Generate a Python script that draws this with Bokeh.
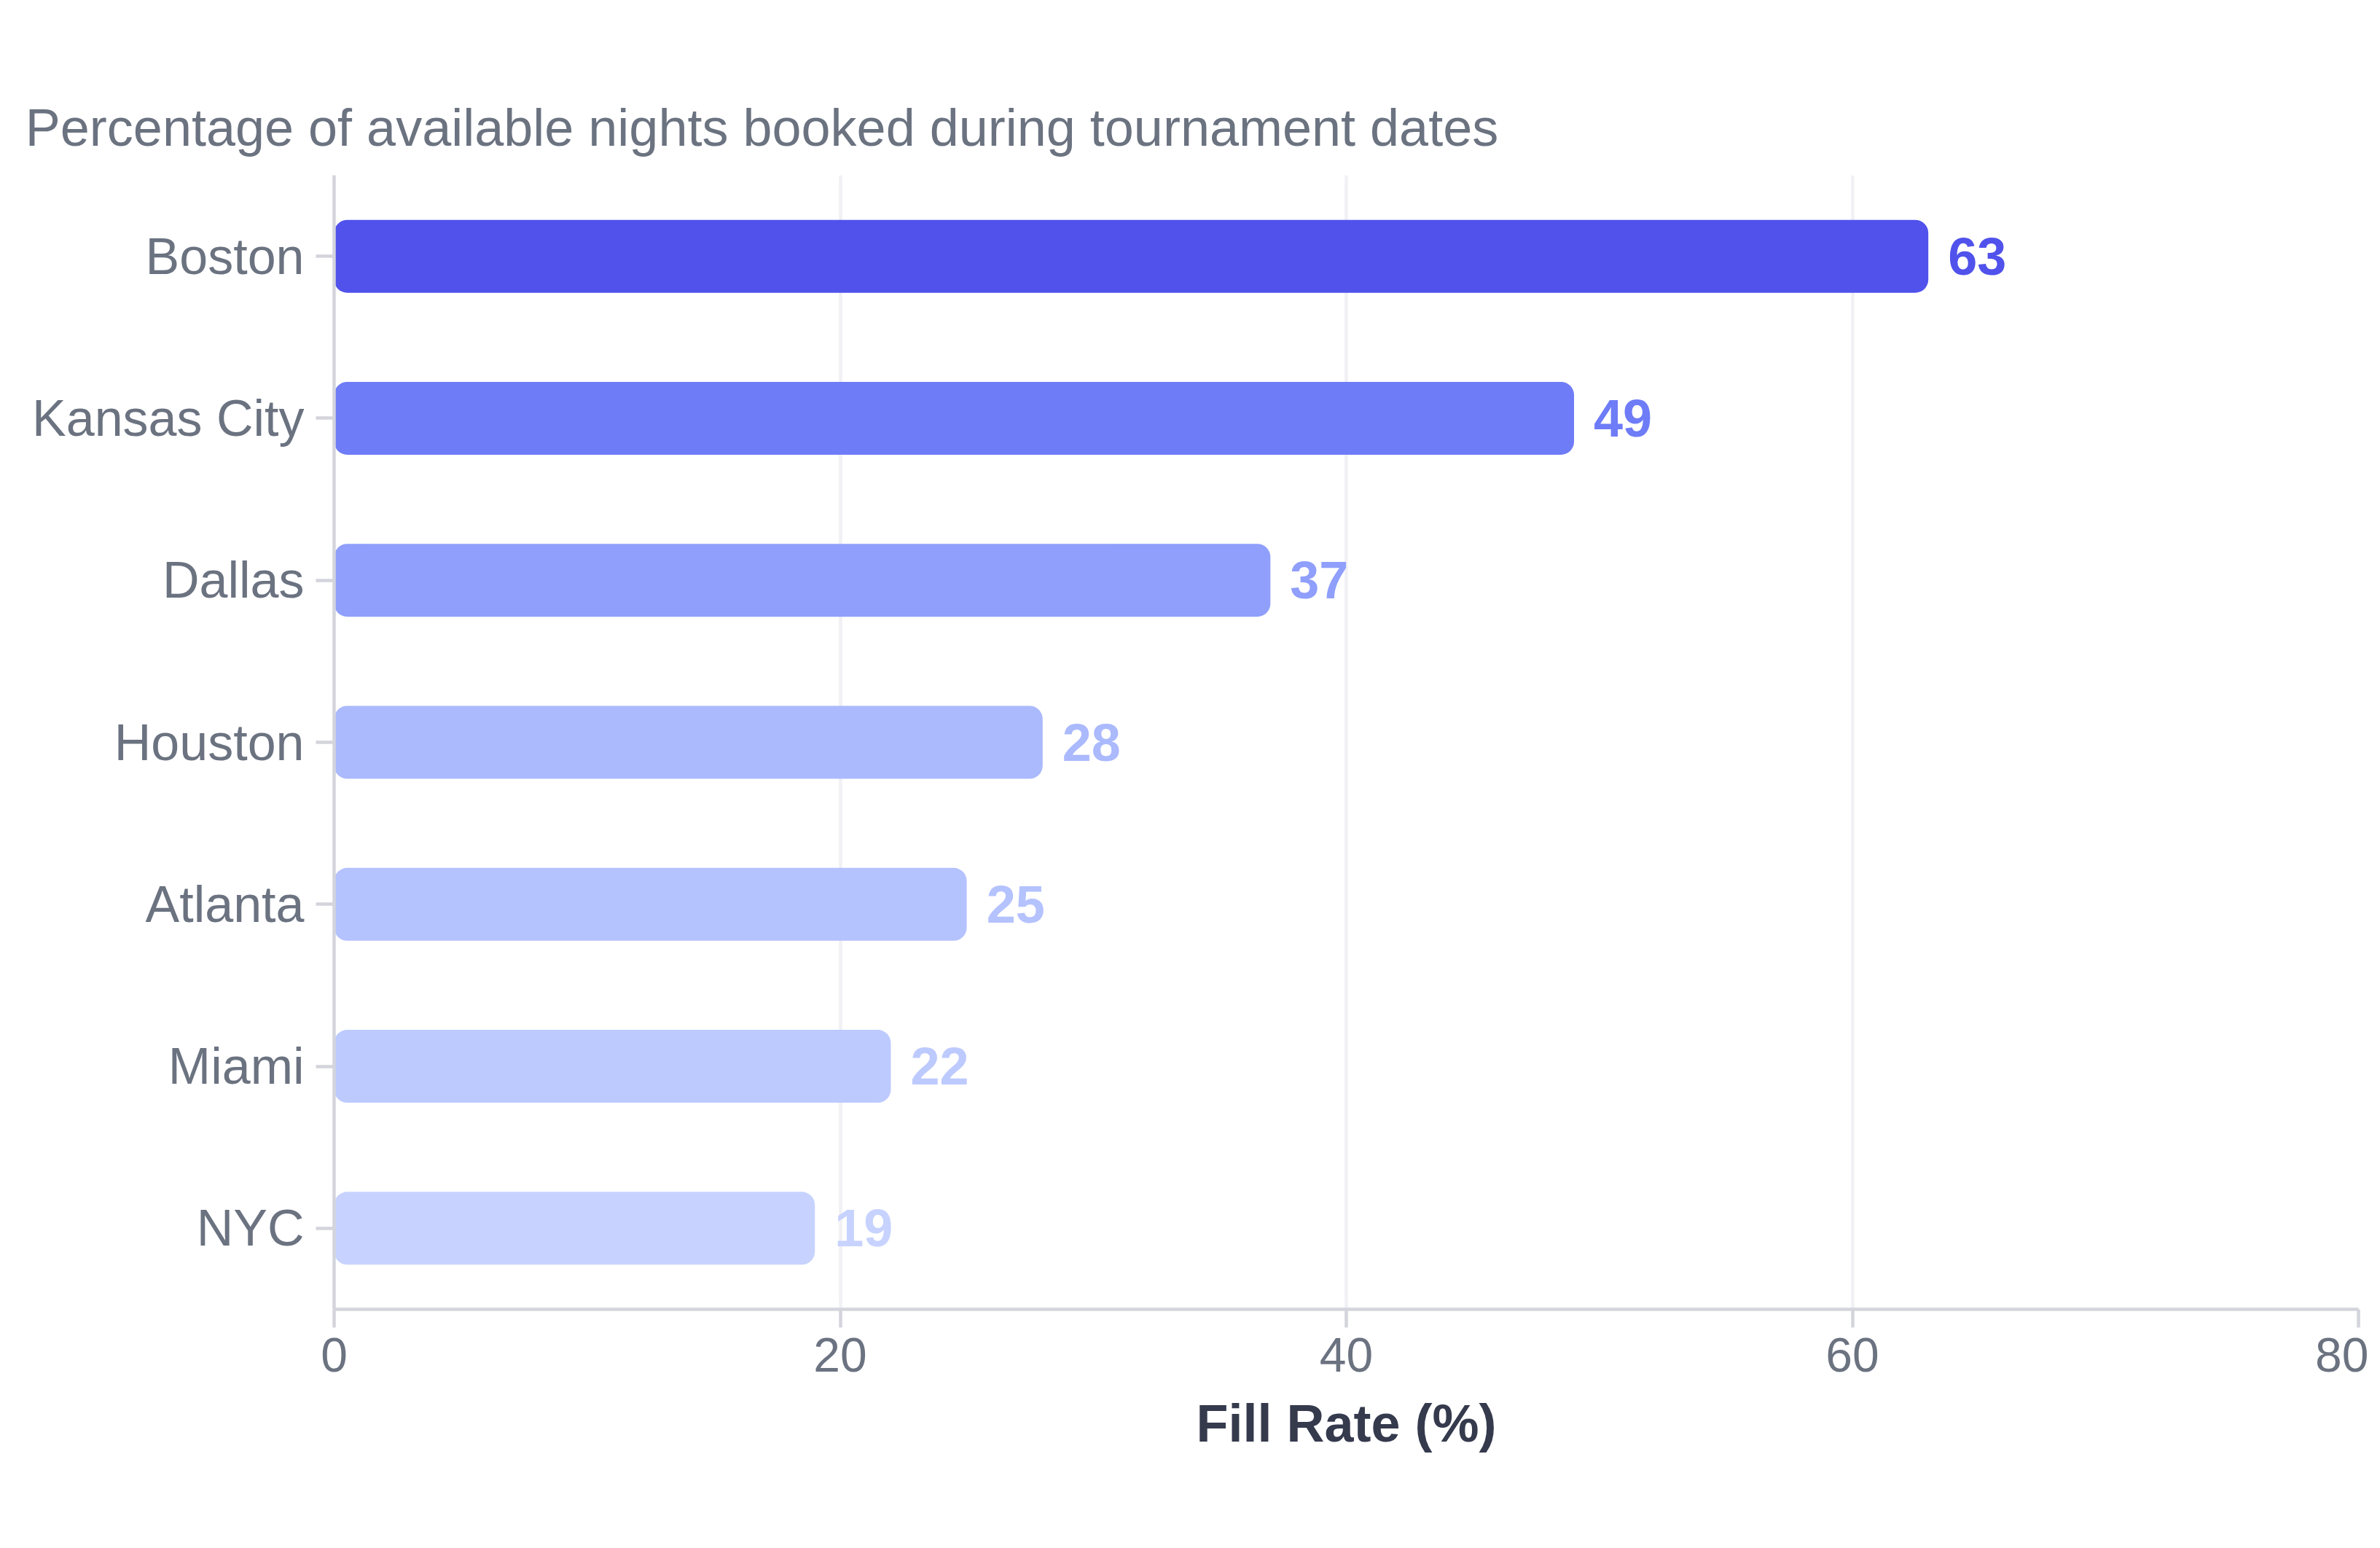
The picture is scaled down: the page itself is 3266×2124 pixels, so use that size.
from bokeh.plotting import figure
from bokeh.models import ColumnDataSource, Range1d, FactorRange, FixedTicker, LinearAxis, Label
from bokeh.core.properties import value
from bokeh.embed import file_html
from bokeh.resources import INLINE

# ---- data ----
cities = ["Boston", "Kansas City", "Dallas", "Houston", "Atlanta", "Miami", "NYC"]
fill_rates = [63, 49, 37, 28, 25, 22, 19]
bar_colors = ["#5052eb", "#6e7cf7", "#8f9ffb", "#abb9fd", "#b4c2fe", "#bdcafe", "#c7d3fe"]
x_ticks = [0, 20, 40, 60, 80]

title_text = "World Cup 2026 Fill Rate by Host City"
subtitle_text = "Percentage of available nights booked during tournament dates"
x_label = "Fill Rate (%)"
watermark = "www.airroi.com"

FONT = "Liberation Sans"

src = ColumnDataSource(dict(
    city=cities,
    rate=fill_rates,
    color=bar_colors,
    label=[str(v) for v in fill_rates],
))

W, H = 3250, 2108
FL, FT, FW, FH = 458, 240, 2778, 1556   # frame left/top/width/height (px)
X0, X1 = 0, 80
NCAT = len(cities)

p = figure(
    width=W, height=H,
    y_range=FactorRange(factors=list(reversed(cities)), range_padding=0),
    x_range=Range1d(X0, X1),
    output_backend="svg", toolbar_location=None,
    min_border_left=FL, min_border_right=W - FL - FW,
    min_border_top=FT, min_border_bottom=H - FT - FH,
)
p.outline_line_color = None
p.background_fill_color = "white"
p.border_fill_color = "white"

p.hbar(y="city", right="rate", left=0, height=0.45, source=src,
       fill_color="color", line_color=None, border_radius=18)

p.text(x="rate", y="city", text="label", source=src,
       text_color="color", text_font=value(FONT), text_font_style="bold",
       text_font_size="72px", text_baseline="middle", text_align="left",
       x_offset=27)

# axes
axis_color = "#d4d4dc"
for ax in (p.xaxis[0], p.yaxis[0]):
    ax.axis_line_color = axis_color
    ax.axis_line_width = 4.5
    ax.major_tick_line_color = axis_color
    ax.major_tick_line_width = 4.5
    ax.major_tick_out = 25
    ax.major_tick_in = 0
    ax.minor_tick_line_color = None
    ax.major_label_text_font = FONT
    ax.major_label_text_color = "#6b7280"

p.xaxis.ticker = FixedTicker(ticks=x_ticks)
p.xaxis.major_label_text_font_size = "66px"
p.xaxis.major_label_standoff = 14
p.xaxis.axis_label = x_label
p.xaxis.axis_label_text_font = FONT
p.xaxis.axis_label_text_font_style = "bold"
p.xaxis.axis_label_text_font_size = "72px"
p.xaxis.axis_label_text_color = "#353a4d"
p.xaxis.axis_label_standoff = 28

p.yaxis.major_label_text_font_size = "70px"
p.yaxis.major_label_standoff = 16

p.ygrid.grid_line_color = None
p.xgrid.grid_line_color = "#f1f0f5"
p.xgrid.grid_line_width = 4.5

# ---- subtitle, carried by a bare axis on a pixel range ----
p.extra_x_ranges = {"px": Range1d(FL, FL + FW)}
sub = LinearAxis(x_range_name="px", ticker=FixedTicker(ticks=[1045]),
                 major_label_overrides={1045: subtitle_text})
sub.axis_line_color = None
sub.major_tick_line_color = None
sub.minor_tick_line_color = None
sub.major_tick_out = 0
sub.major_tick_in = 0
sub.major_label_standoff = 26
sub.major_label_text_font = FONT
sub.major_label_text_font_size = "72px"
sub.major_label_text_color = "#6b7280"
p.add_layout(sub, "above")


# ---- watermark and title as labels (pixel offsets from frame bottom-left) ----
def dx(px):
    return X0 + px * (X1 - X0) / FW


def dy(px):
    return px * NCAT / FH


p.add_layout(Label(x=dx(2786), y=dy(-287),
                   text=watermark, text_font=FONT,
                   text_font_size="54px", text_color="#9ca3af",
                   text_baseline="alphabetic", text_align="right"))
p.add_layout(Label(x=dx(-418), y=dy(1690),
                   text=title_text, text_font=FONT, text_font_style="bold",
                   text_font_size="99px", text_color="#1a1a2e",
                   text_baseline="alphabetic", text_align="left"))

open("out.html", "w").write(file_html(p, INLINE))
